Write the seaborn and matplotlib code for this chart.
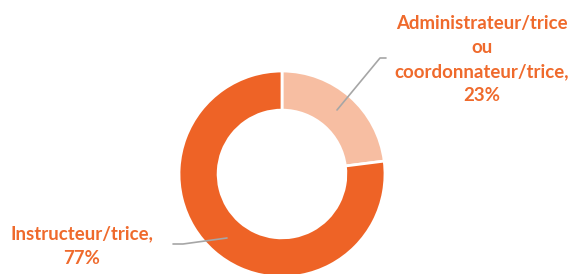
import matplotlib
matplotlib.use("Agg")
import matplotlib.pyplot as plt
import seaborn as sns

categories = ["Administrateur/trice ou coordonnateur/trice", "Instructeur/trice"]
values = [23, 77]
labels = ["Administrateur/trice\nou\ncoordonnateur/trice,\n23%", "Instructeur/trice,\n77%"]

sns.set_theme(style="white")
plt.rcParams["font.family"] = ["Lato", "DejaVu Sans"]

colors = ["#F7BEA2", "#EE6326"]
text_color = "#EF6A2C"
W, H = 576, 274

fig = plt.figure(figsize=(W / 100, H / 100), dpi=100)
ax = fig.add_axes([0, 0, 1, 1])

cx, cy, r = 282, H - 174, 103
ax.pie(values, colors=colors, startangle=90, counterclock=False,
       center=(cx, cy), radius=r, frame=True,
       wedgeprops=dict(width=r * 0.38, edgecolor="white", linewidth=2))
ax.set_xlim(0, W)
ax.set_ylim(0, H)
ax.set_aspect("equal")
ax.axis("off")

# leader lines
ax.plot([337, 380, 386], [H - 110, H - 58, H - 58], color="#A6A6A6", lw=1.2)
ax.plot([173, 183, 227], [H - 244, H - 244, H - 238], color="#A6A6A6", lw=1.2)

ax.text(482, H - 59.5, labels[0], ha="center", va="center", color=text_color,
        fontsize=13.4, fontweight="bold", linespacing=1.5)
ax.text(82, H - 246, labels[1], ha="center", va="center", color=text_color,
        fontsize=13.4, fontweight="bold", linespacing=1.5)

fig.savefig("out.png", dpi=100)
